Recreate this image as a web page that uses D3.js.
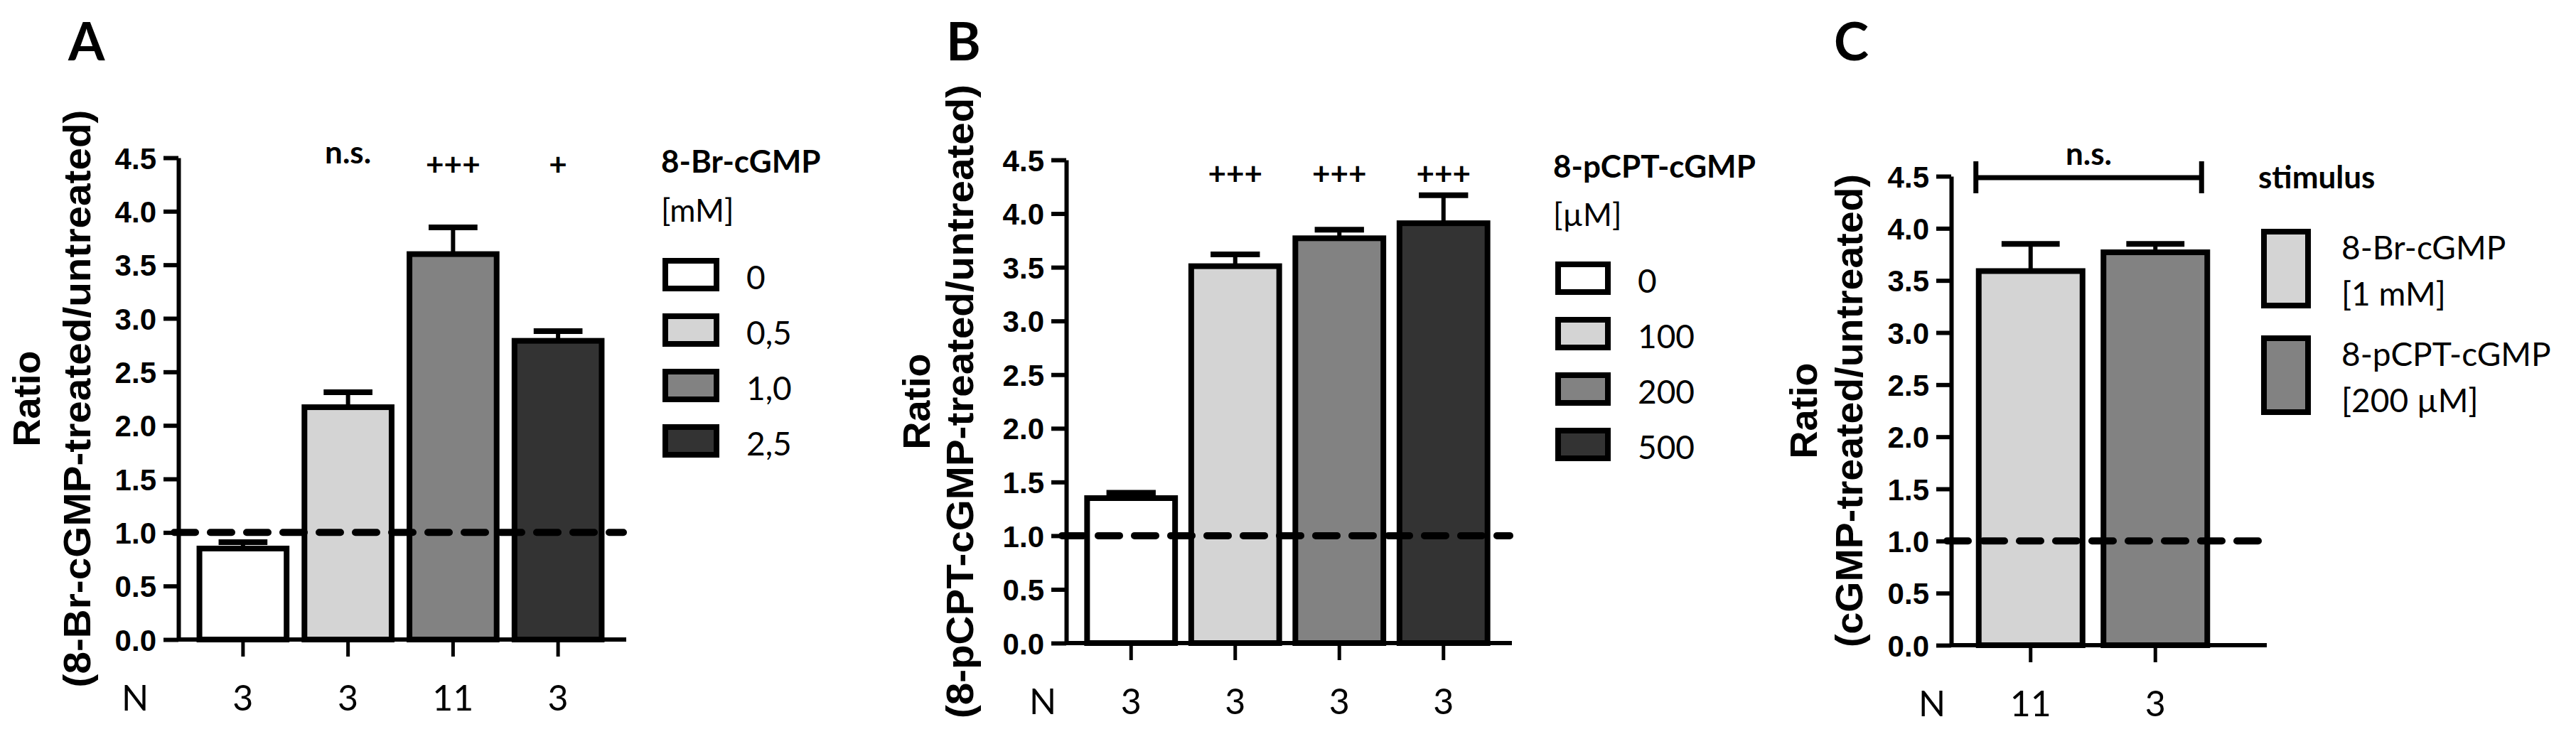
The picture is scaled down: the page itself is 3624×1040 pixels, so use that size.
<!DOCTYPE html>
<html>
<head>
<meta charset="utf-8">
<script src="https://cdn.jsdelivr.net/npm/d3@7"></script>
<style>
  body { margin: 0; background: #fff; }
  svg { display: block; }
</style>
</head>
<body>
<div id="chart"></div>
<script>
// shared y ticks
const yTicks = [0, 0.5, 1, 1.5, 2, 2.5, 3, 3.5, 4, 4.5];
const refLine = 1.0;

// panel A: 8-Br-cGMP
const brDoses = ['0', '0,5', '1,0', '2,5'];
const brMeans = [0.85, 2.17, 3.60, 2.79];
const brSem = [0.06, 0.14, 0.25, 0.09];
const brN = ['3', '3', '11', '3'];
const brSig = ['', 'n.s.', '+++', '+'];

// panel B: 8-pCPT-cGMP
const pcptDoses = ['0', '100', '200', '500'];
const pcptMeans = [1.35, 3.51, 3.77, 3.91];
const pcptSem = [0.05, 0.11, 0.08, 0.26];
const pcptN = ['3', '3', '3', '3'];
const pcptSig = ['', '+++', '+++', '+++'];

// panel C: stimulus comparison
const stimNames = ['8-Br-cGMP', '8-pCPT-cGMP'];
const stimDoses = ['[1 mM]', '[200 µM]'];
const stimMeans = [3.59, 3.77];
const stimSem = [0.26, 0.08];
const stimN = ['11', '3'];

const grey4 = ['#ffffff', '#d4d4d4', '#828282', '#333333'];
const grey2 = ['#d4d4d4', '#828282'];

const W = 3624, H = 1040;
const LATO = 'Lato, "Open Sans", sans-serif';
const ARIAL = '"Liberation Sans", Arial, sans-serif';

const svg = d3.select('#chart').append('svg')
  .attr('width', W).attr('height', H)
  .attr('viewBox', `0 0 ${W} ${H}`);
svg.append('rect').attr('width', W).attr('height', H).attr('fill', '#fff');

function drawPanel(p) {
  const g = svg.append('g');
  const idx = d3.range(p.means.length);
  const x = d3.scaleBand().domain(idx).range(p.band)
    .paddingInner(p.pad).paddingOuter(p.pad / 2);
  const y = d3.scaleLinear().domain([0, 4.5]).range([p.y0, p.y1]);
  const bw = x.bandwidth();

  // panel letter
  g.append('text').attr('x', p.letterX).attr('y', 85)
    .attr('font-family', LATO).attr('font-weight', 'bold').attr('font-size', 74)
    .text(p.letter);

  // y title (two lines, rotated)
  g.append('text')
    .attr('transform', `translate(${p.titleX[0]},${(p.y0 + p.y1) / 2}) rotate(-90)`)
    .attr('text-anchor', 'middle')
    .attr('font-family', ARIAL).attr('font-weight', 'bold').attr('font-size', 54)
    .text('Ratio');
  g.append('text')
    .attr('transform', `translate(${p.titleX[1]},${(p.y0 + p.y1) / 2}) rotate(-90)`)
    .attr('text-anchor', 'middle')
    .attr('font-family', ARIAL).attr('font-weight', 'bold').attr('font-size', 54)
    .attr('textLength', p.titleLen).attr('lengthAdjust', 'spacingAndGlyphs')
    .text(p.title);

  // error bars (upper only)
  const err = g.append('g').attr('stroke', '#000');
  err.selectAll('line.v').data(idx).join('line').attr('class', 'v')
    .attr('x1', i => x(i) + bw / 2).attr('x2', i => x(i) + bw / 2)
    .attr('y1', i => y(p.means[i])).attr('y2', i => y(p.means[i] + p.sem[i]))
    .attr('stroke-width', 6);
  err.selectAll('line.cap').data(idx).join('line').attr('class', 'cap')
    .attr('x1', i => x(i) + bw / 2 - bw * 0.28).attr('x2', i => x(i) + bw / 2 + bw * 0.28)
    .attr('y1', i => y(p.means[i] + p.sem[i])).attr('y2', i => y(p.means[i] + p.sem[i]))
    .attr('stroke-width', 8);

  // bars
  g.append('g').selectAll('rect').data(idx).join('rect')
    .attr('x', i => x(i)).attr('width', bw)
    .attr('y', i => y(p.means[i])).attr('height', i => y(0) - y(p.means[i]))
    .attr('fill', i => p.fills[i]).attr('stroke', '#000').attr('stroke-width', 8);

  // y axis
  const ax = g.append('g').attr('transform', `translate(${p.axisX},0)`)
    .call(d3.axisLeft(y).tickValues(yTicks).tickFormat(d3.format('.1f'))
      .tickSize(21).tickSizeOuter(0).tickPadding(10));
  ax.selectAll('path, line').attr('stroke', '#000').attr('stroke-width', 6);
  ax.selectAll('text').attr('fill', '#000').attr('dy', '0.36em')
    .attr('font-family', ARIAL).attr('font-weight', 'bold').attr('font-size', 42);

  // x axis with ticks at bar centres
  g.append('line').attr('x1', p.axisX).attr('x2', p.xEnd)
    .attr('y1', y(0)).attr('y2', y(0)).attr('stroke', '#000').attr('stroke-width', 6);
  g.append('g').selectAll('line').data(idx).join('line')
    .attr('x1', i => x(i) + bw / 2).attr('x2', i => x(i) + bw / 2)
    .attr('y1', y(0)).attr('y2', y(0) + 24)
    .attr('stroke', '#000').attr('stroke-width', 5);

  // dashed reference line at ratio 1
  g.append('line').attr('x1', p.axisX - 6).attr('x2', p.dashEnd)
    .attr('y1', y(refLine)).attr('y2', y(refLine))
    .attr('stroke', '#000').attr('stroke-width', 10)
    .attr('stroke-dasharray', '30 21').attr('stroke-linecap', 'round');

  // N row
  g.append('text').attr('x', p.nX).attr('y', p.nY).attr('text-anchor', 'middle')
    .attr('font-family', LATO).attr('font-size', 50).text('N');
  g.append('g').selectAll('text').data(idx).join('text')
    .attr('x', i => x(i) + bw / 2).attr('y', p.nY).attr('text-anchor', 'middle')
    .attr('font-family', LATO).attr('font-size', 50)
    .text(i => p.n[i]);

  // significance marks
  if (p.sig) {
    g.append('g').selectAll('text').data(idx.filter(i => p.sig[i])).join('text')
      .attr('x', i => x(i) + bw / 2)
      .attr('y', i => p.sig[i][0] === '+' ? p.sigY + 17 : p.sigY)
      .attr('text-anchor', 'middle')
      .attr('font-family', LATO).attr('font-weight', 'bold').attr('font-size', 44)
      .text(i => p.sig[i]);
  }
  return { x, y, bw, g };
}

function drawLegend(l) {
  const g = svg.append('g');
  g.append('text').attr('x', l.x).attr('y', l.titleY)
    .attr('font-family', LATO).attr('font-weight', 'bold').attr('font-size', 44)
    .text(l.title);
  if (l.sub) {
    g.append('text').attr('x', l.x).attr('y', l.subY)
      .attr('font-family', LATO).attr('font-size', 44).text(l.sub);
  }
  g.selectAll('rect').data(l.labels).join('rect')
    .attr('x', l.boxX + 4).attr('width', l.boxW - 8)
    .attr('y', (d, i) => l.boxTop + i * l.step + 4).attr('height', l.boxH - 8)
    .attr('fill', (d, i) => l.fills[i]).attr('stroke', '#000').attr('stroke-width', 8);
  l.labels.forEach((lab, i) => {
    const lines = Array.isArray(lab) ? lab : [lab];
    lines.forEach((t, k) => {
      g.append('text').attr('x', l.labelX)
        .attr('y', l.boxTop + i * l.step + l.labelY[k])
        .attr('font-family', LATO).attr('font-size', 46).text(t);
    });
  });
}

// ---- panel A
drawPanel({
  letter: 'A', letterX: 96,
  means: brMeans, sem: brSem, n: brN, sig: brSig, fills: grey4,
  band: [268, 859], pad: 0.17,
  y0: 900, y1: 222, axisX: 251, xEnd: 881, dashEnd: 877,
  titleX: [56, 127], titleLen: 813, title: '(8-Br-cGMP-treated/untreated)',
  nX: 190, nY: 1000, sigY: 230
});
drawLegend({
  title: '8-Br-cGMP', sub: '[mM]', x: 930, titleY: 243, subY: 312,
  boxX: 932, boxW: 80, boxH: 47, boxTop: 363, step: 78,
  labelX: 1050, labelY: [44], labels: brDoses, fills: grey4
});

// ---- panel B
drawPanel({
  letter: 'B', letterX: 1331,
  means: pcptMeans, sem: pcptSem, n: pcptN, sig: pcptSig, fills: grey4,
  band: [1518, 2104], pad: 0.155,
  y0: 905, y1: 225, axisX: 1500, xEnd: 2127, dashEnd: 2124,
  titleX: [1308, 1369], titleLen: 892, title: '(8-pCPT-cGMP-treated/untreated)',
  nX: 1467, nY: 1005, sigY: 243
});
drawLegend({
  title: '8-pCPT-cGMP', sub: '[µM]', x: 2185, titleY: 250, subY: 318,
  boxX: 2188, boxW: 78, boxH: 47, boxTop: 368, step: 78,
  labelX: 2304, labelY: [44], labels: pcptDoses, fills: grey4
});

// ---- panel C
const pc = drawPanel({
  letter: 'C', letterX: 2580,
  means: stimMeans, sem: stimSem, n: stimN, sig: null, fills: grey2,
  band: [2769, 3120], pad: 0.168,
  y0: 908, y1: 248, axisX: 2745, xEnd: 3189, dashEnd: 3177,
  titleX: [2556, 2620], titleLen: 666, title: '(cGMP-treated/untreated)',
  nX: 2718, nY: 1008
});
// n.s. bracket between the two stimuli
const bx1 = pc.x(0) - 4, bx2 = pc.x(1) + pc.bw - 8;
const brk = pc.g.append('g').attr('stroke', '#000').attr('stroke-width', 7);
brk.append('line').attr('x1', bx1).attr('x2', bx2).attr('y1', 250).attr('y2', 250);
brk.append('line').attr('x1', bx1).attr('x2', bx1).attr('y1', 227).attr('y2', 272);
brk.append('line').attr('x1', bx2).attr('x2', bx2).attr('y1', 227).attr('y2', 272);
pc.g.append('text').attr('x', (bx1 + bx2) / 2).attr('y', 232).attr('text-anchor', 'middle')
  .attr('font-family', LATO).attr('font-weight', 'bold').attr('font-size', 44).text('n.s.');

drawLegend({
  title: 'stimulus', x: 3177, titleY: 265,
  boxX: 3181, boxW: 70, boxH: 112, boxTop: 322, step: 150,
  labelX: 3294, labelY: [43, 108],
  labels: stimNames.map((s, i) => [s, stimDoses[i]]), fills: grey2
});
</script>
</body>
</html>
